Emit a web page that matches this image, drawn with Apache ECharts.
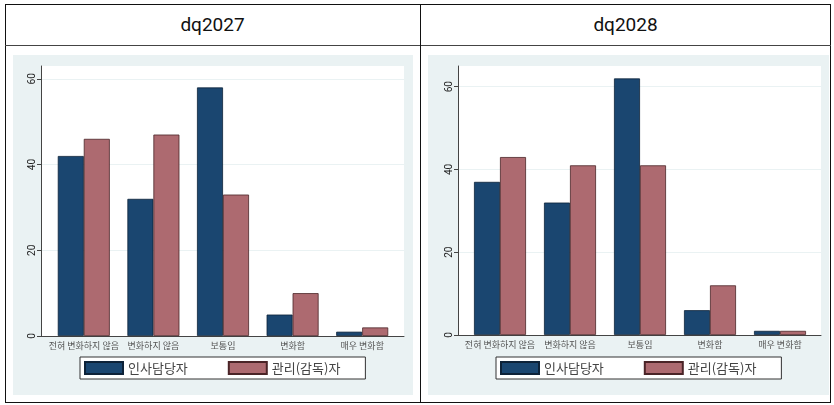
<!DOCTYPE html>
<html>
<head>
<meta charset="utf-8">
<script src="https://cdn.jsdelivr.net/npm/echarts@6/dist/echarts.min.js"></script>
<style>
  body { margin: 0; background: #fff; }
  .frame { position: absolute; left: 5px; top: 4px; width: 826px; height: 399px; border: 1px solid #111; box-sizing: border-box; }
  .hline { position: absolute; left: 5px; top: 45px; width: 826px; height: 0; border-top: 1px solid #444; }
  .vline { position: absolute; left: 420px; top: 4px; width: 0; height: 399px; border-left: 1px solid #111; }
  .title { position: absolute; top: 4px; height: 41px; line-height: 41px; text-align: center; font-family: Roboto, 'Noto Sans', sans-serif; font-size: 19px; color: #111; }
  .panel { position: absolute; top: 55px; height: 340px; }
</style>
</head>
<body>
<div class="frame"></div>
<div class="hline"></div>
<div class="vline"></div>
<div class="title" style="left:5px;width:415px">dq2027</div>
<div class="title" style="left:420px;width:411px">dq2028</div>
<div id="left" class="panel" style="left:13px;width:400px"></div>
<div id="right" class="panel" style="left:428px;width:401px"></div>
<script>
const categories = ['전혀 변화하지 않음', '변화하지 않음', '보통임', '변화함', '매우 변화함']
const seriesNames = ['인사담당자', '관리(감독)자']
const hr2027 = [42, 32, 58, 5, 1]
const sup2027 = [46, 47, 33, 10, 2]
const hr2028 = [37, 32, 62, 6, 1]
const sup2028 = [43, 41, 41, 12, 1]
const yTicks = [0, 20, 40, 60]

const blue = '#1a4670'
const red = '#ad6a70'
const panelBg = '#eaf2f3'
const fontKr = "'Noto Sans CJK KR', 'Noto Sans', sans-serif"

function buildOption(hr, sup, yMax, plot, bars, legendPos) {
  return {
    backgroundColor: panelBg,
    animation: false,
    grid: [
      { left: plot[0], right: plot[1], top: 11, bottom: plot[2], show: true, backgroundColor: '#fff', borderWidth: 0 },
      { left: bars[0], right: bars[1], top: 11, bottom: plot[2] },
    ],
    xAxis: [
      {
        gridIndex: 0, type: 'value', min: 0, max: 1,
        axisLine: { show: true, lineStyle: { color: '#444', width: 1 } },
        axisTick: { show: false }, axisLabel: { show: false }, splitLine: { show: false },
      },
      {
        gridIndex: 1, type: 'category', data: categories,
        axisLine: { show: false }, axisTick: { show: false },
        axisLabel: { color: '#555', fontSize: 9, fontFamily: fontKr, margin: 5, interval: 0 },
      },
    ],
    yAxis: [
      {
        gridIndex: 0, type: 'value', min: 0, max: yMax,
        axisLine: { show: true, lineStyle: { color: '#444', width: 1 } },
        axisTick: { show: true, length: 4, lineStyle: { color: '#444' }, customValues: yTicks },
        axisLabel: { rotate: 90, fontSize: 10, color: '#222', margin: 4, fontFamily: 'Roboto, sans-serif', customValues: yTicks },
        splitLine: { show: true, lineStyle: { color: panelBg, width: 1 } },
      },
      { gridIndex: 1, type: 'value', min: 0, max: yMax, show: false },
    ],
    legend: {
      left: legendPos[0], top: legendPos[1],
      data: seriesNames,
      icon: 'rect',
      itemWidth: 38, itemHeight: 12, itemGap: 40,
      padding: [4, 25, 4, 4],
      borderColor: '#333', borderWidth: 1, borderRadius: 0, backgroundColor: '#fff',
      textStyle: { fontSize: 13, color: '#444', fontFamily: fontKr },
    },
    series: [
      {
        name: seriesNames[0], type: 'bar', xAxisIndex: 1, yAxisIndex: 1,
        data: hr, barWidth: 26, barGap: '0%',
        itemStyle: { color: blue, borderColor: '#0d2238', borderWidth: 0.8 },
      },
      {
        name: seriesNames[1], type: 'bar', xAxisIndex: 1, yAxisIndex: 1,
        data: sup, barWidth: 26, barGap: '0%',
        itemStyle: { color: red, borderColor: '#4a2427', borderWidth: 0.8 },
      },
    ],
  }
}

const leftChart = echarts.init(document.getElementById('left'))
leftChart.setOption(buildOption(hr2027, sup2027, 63, [28, 9, 59], [36, 16], [67, 302]))

const rightChart = echarts.init(document.getElementById('right'))
rightChart.setOption(buildOption(hr2028, sup2028, 65, [30, 8, 60], [37, 14], [68, 302]))
</script>
</body>
</html>
